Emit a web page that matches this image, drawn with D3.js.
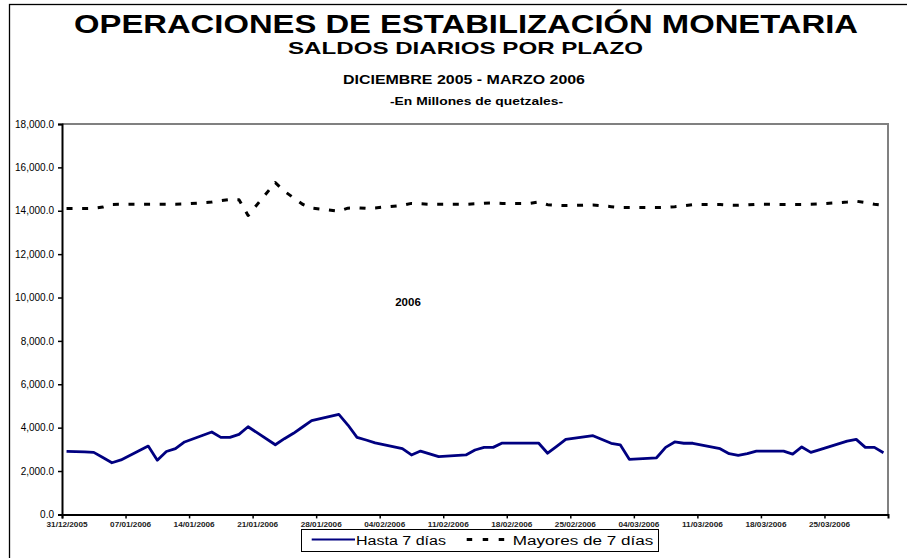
<!DOCTYPE html>
<html>
<head>
<meta charset="utf-8">
<script src="https://cdn.jsdelivr.net/npm/d3@7"></script>
<style>
  html, body { margin: 0; padding: 0; background: #fff; }
  svg { display: block; font-family: "Liberation Sans", Arial, sans-serif; }
</style>
</head>
<body>
<svg id="chart" width="907" height="558"></svg>
<script>
// Business days of the period (31/12/2005 year-end balance included)
const fechas = [
  "2005-12-31","2006-01-02","2006-01-03","2006-01-04","2006-01-05","2006-01-06",
  "2006-01-09","2006-01-10","2006-01-11","2006-01-12","2006-01-13",
  "2006-01-16","2006-01-17","2006-01-18","2006-01-19","2006-01-20",
  "2006-01-23","2006-01-24","2006-01-25","2006-01-26","2006-01-27",
  "2006-01-30","2006-01-31","2006-02-01","2006-02-02","2006-02-03",
  "2006-02-06","2006-02-07","2006-02-08","2006-02-09","2006-02-10",
  "2006-02-13","2006-02-14","2006-02-15","2006-02-16","2006-02-17",
  "2006-02-20","2006-02-21","2006-02-22","2006-02-23","2006-02-24",
  "2006-02-27","2006-02-28","2006-03-01","2006-03-02","2006-03-03",
  "2006-03-06","2006-03-07","2006-03-08","2006-03-09","2006-03-10",
  "2006-03-13","2006-03-14","2006-03-15","2006-03-16","2006-03-17",
  "2006-03-20","2006-03-21","2006-03-22","2006-03-23","2006-03-24",
  "2006-03-27","2006-03-28","2006-03-29","2006-03-30","2006-03-31"
];

// Saldos hasta 7 días (millones de quetzales)
const hasta7 = [
  2910, 2880, 2860, 2620, 2380, 2510,
  3150, 2500, 2900, 3030, 3340,
  3800, 3550, 3550, 3690, 4040,
  3210, 3490, 3740, 4030, 4320,
  4610, 4120, 3550, 3430, 3300,
  3030, 2740, 2920, 2790, 2660,
  2740, 2970, 3090, 3090, 3290,
  3290, 3290, 2820, 3140, 3460,
  3630, 3450, 3280, 3210, 2540,
  2610, 3090, 3340, 3280, 3280,
  3030, 2800, 2720, 2800, 2920,
  2920, 2780, 3110, 2860, 2990,
  3380, 3460, 3090, 3090, 2840
];

// Saldos mayores de 7 días (millones de quetzales)
const mayores7 = [
  14100, 14100, 14110, 14170, 14290, 14300,
  14300, 14300, 14300, 14300, 14310,
  14400, 14470, 14520, 14510, 13780,
  15300, 14900, 14600, 14300, 14120,
  13980, 14120, 14140, 14110, 14130,
  14250, 14340, 14320, 14300, 14300,
  14300, 14320, 14350, 14360, 14340,
  14340, 14400, 14280, 14250, 14240,
  14260, 14230, 14190, 14150, 14150,
  14150, 14160, 14190, 14230, 14280,
  14290, 14260, 14250, 14270, 14300,
  14290, 14290, 14290, 14300, 14320,
  14400, 14440, 14380, 14300, 14250
];

// Weekly tick dates on the time axis
const ticksFechas = [
  "2005-12-31","2006-01-07","2006-01-14","2006-01-21","2006-01-28",
  "2006-02-04","2006-02-11","2006-02-18","2006-02-25",
  "2006-03-04","2006-03-11","2006-03-18","2006-03-25"
];
const yTicks = [0, 2000, 4000, 6000, 8000, 10000, 12000, 14000, 16000, 18000];

const series = [
  { name: "Hasta 7 días", values: hasta7, color: "#000080", dash: null, width: 2.8 },
  { name: "Mayores de 7 días", values: mayores7, color: "#000000", dash: "6,9.6", width: 3 }
];

const svg = d3.select("#chart");
const margin = { left: 62, top: 124, right: 888, bottom: 514.4 };

const parse = s => { const [y, m, d] = s.split("-").map(Number); return new Date(Date.UTC(y, m - 1, d)); };
const DAY = 86400000;

const x = d3.scaleUtc()
  .domain([parse("2005-12-31"), parse("2006-04-01")])
  .range([margin.left, margin.right]);
const y = d3.scaleLinear()
  .domain([0, 18000])
  .range([margin.bottom, margin.top]);

const halfDay = (x(new Date(parse("2006-01-01").getTime())) - x(parse("2005-12-31"))) / 2;
// each daily balance sits in the middle of its day slot
const px = s => x(new Date(parse(s).getTime() + DAY / 2));

// Outer chart frame
svg.append("rect")
  .attr("x", 9.5).attr("y", 4.5)
  .attr("width", 1000).attr("height", 1000)
  .attr("fill", "none").attr("stroke", "#000").attr("stroke-width", 1.3);

// Titles
const titles = [
  { text: "OPERACIONES DE ESTABILIZACIÓN MONETARIA", x: 466, y: 33, size: 26, len: 784 },
  { text: "SALDOS DIARIOS POR PLAZO", x: 465.5, y: 54, size: 17, len: 355 },
  { text: "DICIEMBRE 2005 - MARZO 2006", x: 464, y: 83.5, size: 12.5, len: 242 },
  { text: "-En Millones de quetzales-", x: 476.5, y: 104.5, size: 11, len: 173 }
];
svg.selectAll("text.title").data(titles).join("text")
  .attr("class", "title")
  .attr("x", d => d.x).attr("y", d => d.y)
  .attr("text-anchor", "middle")
  .attr("font-weight", "bold")
  .attr("font-size", d => d.size)
  .attr("textLength", d => d.len)
  .attr("lengthAdjust", "spacingAndGlyphs")
  .text(d => d.text);

// Plot area border (top and right in gray)
svg.append("path")
  .attr("d", `M${margin.left},${margin.top}H${margin.right}V${margin.bottom}`)
  .attr("fill", "none").attr("stroke", "#808080").attr("stroke-width", 2);

// Y axis
const yAxis = svg.append("g")
  .attr("transform", `translate(${margin.left},0)`)
  .call(d3.axisLeft(y).tickValues(yTicks).tickSize(4).tickPadding(4)
    .tickFormat(d => d3.format(",.1f")(d)));
yAxis.select(".domain").attr("stroke", "#000").attr("stroke-width", 2);
yAxis.selectAll(".tick line").attr("stroke", "#000").attr("stroke-width", 1.5);
yAxis.selectAll("text").attr("font-size", 10).attr("fill", "#000")
  .attr("font-family", "Liberation Sans, Arial, sans-serif");

// X axis
const xAxis = svg.append("g")
  .attr("transform", `translate(0,${margin.bottom})`)
  .call(d3.axisBottom(x).tickValues(ticksFechas.map(parse)).tickSize(4).tickPadding(3)
    .tickFormat(d3.utcFormat("%d/%m/%Y")));
xAxis.select(".domain").attr("stroke", "#000").attr("stroke-width", 2);
xAxis.selectAll(".tick line").attr("stroke", "#000").attr("stroke-width", 1.5);
xAxis.selectAll("text")
  .attr("x", halfDay)
  .attr("font-size", 7.5).attr("font-weight", "bold").attr("fill", "#222")
  .attr("font-family", "Liberation Sans, Arial, sans-serif")
  .attr("textLength", 41).attr("lengthAdjust", "spacingAndGlyphs");

// Series lines
const line = d3.line()
  .x((d, i) => px(fechas[i]))
  .y(d => y(d));
svg.selectAll("path.serie").data(series).join("path")
  .attr("class", "serie")
  .attr("d", d => line(d.values))
  .attr("fill", "none")
  .attr("stroke", d => d.color)
  .attr("stroke-width", d => d.width)
  .attr("stroke-dasharray", d => d.dash)
  .attr("stroke-linejoin", "round");

// Year annotation
svg.append("text")
  .attr("x", 408).attr("y", 306)
  .attr("text-anchor", "middle")
  .attr("font-weight", "bold").attr("font-size", 11.5)
  .text("2006");

// Legend
const legend = svg.append("g");
legend.append("rect")
  .attr("x", 301.5).attr("y", 529.5).attr("width", 357).attr("height", 22)
  .attr("fill", "#fff").attr("stroke", "#000").attr("stroke-width", 1);
const legendItems = [
  { s: series[0], x1: 311.7, x2: 355, tx: 356, len: 90 },
  { s: series[1], x1: 466.7, x2: 509.5, tx: 512.7, len: 140.6 }
];
legendItems.forEach(it => {
  legend.append("line")
    .attr("x1", it.x1).attr("x2", it.x2).attr("y1", 539.5).attr("y2", 539.5)
    .attr("stroke", it.s.color).attr("stroke-width", it.s.dash ? 3 : 2)
    .attr("stroke-dasharray", it.s.dash ? "5.5,10.5" : null);
  legend.append("text")
    .attr("x", it.tx).attr("y", 544.5)
    .attr("font-size", 12)
    .attr("textLength", it.len).attr("lengthAdjust", "spacingAndGlyphs")
    .text(it.s.name);
});
</script>
</body>
</html>
